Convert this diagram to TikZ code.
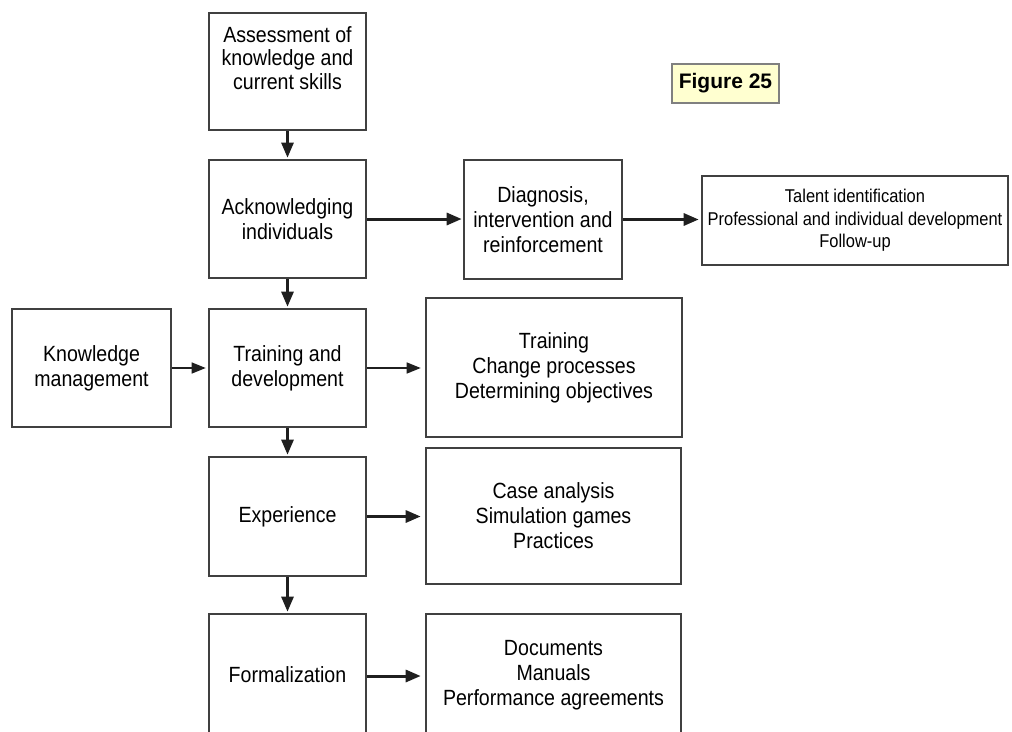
\documentclass[tikz,border=0pt]{standalone}
\usepackage{fontspec}
\setmainfont{Liberation Sans}
\newfontfamily\boxfont[FakeStretch=0.89]{Liberation Sans}
\usetikzlibrary{arrows.meta}
\begin{document}
\begin{tikzpicture}[x=1pt,y=-1pt,
  box/.style={draw=black!75, line width=2.6pt, inner sep=0pt, align=center,
    font=\boxfont\fontsize{22}{25}\selectfont},
  sbox/.style={box, font=\boxfont\fontsize{18.5}{22.5}\selectfont},
  txt/.style={inner sep=0pt, align=center, font=\boxfont\fontsize{22}{23.5}\selectfont},
  arr/.style={-{Triangle[length=15pt,width=12pt]}, line width=2.6pt, black!88},
  thickarr/.style={arr, line width=3pt},
  thinarr/.style={-{Triangle[length=14pt,width=11pt]}, line width=1.4pt, black!88},
  figbox/.style={draw=black!50, line width=1.6pt, fill={rgb,255:red,255;green,255;blue,208},
    inner sep=0pt, font=\bfseries\fontsize{21}{25}\selectfont}]
\fill[white] (0,0) rectangle (1012,731);
\clip (0,0) rectangle (1012,731);

% left column
\node[box, minimum width=157pt, minimum height=117pt] (assess) at (287.5,71.5) {};
\node[txt] (assesstxt) at (287.5,58) {Assessment of\\knowledge and\\current skills};
\node[box, minimum width=157pt, minimum height=118pt] (ack) at (287.5,219) {Acknowledging\\individuals};
\node[box, minimum width=157pt, minimum height=118pt] (train) at (287.5,368) {Training and\\development};
\node[box, minimum width=157pt, minimum height=119pt] (exper) at (287.5,516.5) {Experience};
\node[box, minimum width=157pt, minimum height=122pt] (formal) at (287.5,675) {Formalization};

\node[box, minimum width=159pt, minimum height=118pt] (km) at (91.5,368) {Knowledge\\management};

% right column
\node[box, minimum width=158pt, minimum height=119pt] (diag) at (543,219.5) {Diagnosis,\\intervention and\\reinforcement};
\node[sbox, minimum width=306pt, minimum height=89pt] (talent) at (855,220.5) {Talent identification\\Professional and individual development\\Follow-up};
\node[box, minimum width=256pt, minimum height=139pt] (trainR) at (554,367.5) {Training\\Change processes\\Determining objectives};
\node[box, minimum width=255pt, minimum height=136pt] (case) at (553.5,516) {Case analysis\\Simulation games\\Practices};
\node[box, minimum width=255pt, minimum height=122pt] (docs) at (553.5,675) {Documents\\Manuals\\Performance agreements};

\node[figbox, minimum width=107pt, minimum height=39pt] (fig) at (725.5,83.5) {Figure 25};

% connectors
\draw[arr, shorten >=1pt] (assess.south) -- (ack.north);
\draw[arr, shorten >=1pt] (ack.south) -- (train.north);
\draw[arr, shorten >=1pt] (train.south) -- (exper.north);
\draw[arr, shorten >=1pt] (exper.south) -- (formal.north);
\draw[thinarr, shorten >=2pt] (km.east) -- (km.east -| train.west);
\draw[thickarr, shorten >=1pt] (ack.east) -- (ack.east -| diag.west);
\draw[thickarr, shorten >=2pt] (diag.east) -- (diag.east -| talent.west);
\draw[thinarr, shorten >=4pt] (train.east) -- (train.east -| trainR.west);
\draw[thickarr, shorten >=4pt] (exper.east) -- (exper.east -| case.west);
\draw[thickarr, shorten >=4pt] ([yshift=-1pt]formal.east) -- ([yshift=-1pt]formal.east -| docs.west);
\end{tikzpicture}
\end{document}
